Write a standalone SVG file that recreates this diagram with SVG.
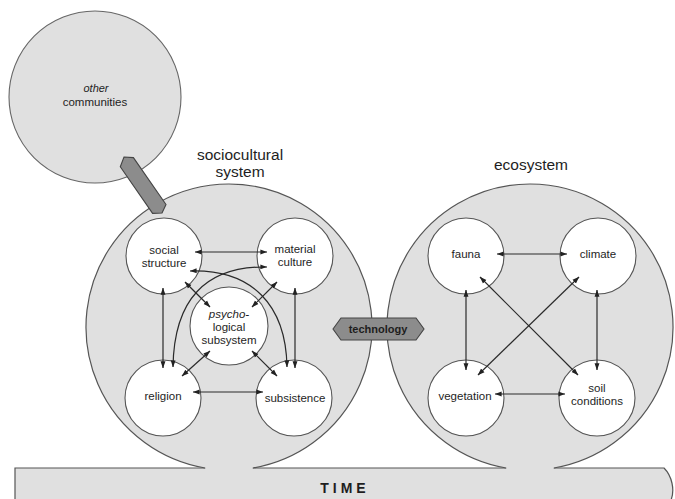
<svg xmlns="http://www.w3.org/2000/svg" width="675" height="499" viewBox="0 0 675 499">
<defs>
<marker id="ah" viewBox="0 0 10 10" refX="9.5" refY="5" markerWidth="7" markerHeight="7" markerUnits="userSpaceOnUse" orient="auto-start-reverse">
<path d="M0,1.5 L10,5 L0,8.5 z" fill="#222"/>
</marker>
</defs>
<style>
.bg{fill:#e0e0e0;stroke:none}
.ol{fill:none;stroke:#555;stroke-width:1.2}
.node{fill:#ffffff;stroke:#555;stroke-width:1.1}
.cn{fill:none;stroke:#2a2a2a;stroke-width:1.2;marker-start:url(#ah);marker-end:url(#ah)}
.t{font-family:"Liberation Sans",Arial,sans-serif;font-size:11.5px;fill:#1e1e1e;text-anchor:middle}
.ti{font-style:italic}
.h{font-size:15.5px}
.dark{fill:#8c8c8c;stroke:#444;stroke-width:1.1}
</style>

<g id="time">
<path class="bg" d="M15,468 L664,468 C672,476 675,490 671,500 L15,500 Z"/>
<path class="ol" d="M15,500 L15,468 L205.2,468 M252.8,468 L506.2,468 M553.8,468 L664,468 C672,476 675,490 671,500"/>
<text class="t" x="345" y="493" style="font-size:14px;font-weight:bold;letter-spacing:4px">TIME</text>
</g>

<g id="sociocultural-system">
<circle class="bg" cx="229" cy="327" r="143"/>
<path class="ol" d="M205.2,468 A143,143 0 1 1 252.8,468"/>
<text class="t h" x="240" y="160">sociocultural</text>
<text class="t h" x="240" y="177">system</text>
</g>

<g id="ecosystem">
<circle class="bg" cx="530" cy="327" r="143"/>
<path class="ol" d="M506.2,468 A143,143 0 1 1 553.8,468"/>
<text class="t h" x="531" y="170">ecosystem</text>
</g>

<g id="other-communities">
<circle cx="95" cy="97" r="86" fill="#e0e0e0" stroke="#666" stroke-width="1.1"/>
<text class="t ti" x="96" y="92" style="font-size:11px">other</text>
<text class="t" x="95" y="106">communities</text>
</g>

<g id="link-bar">
<polygon class="dark" points="124,157 133.4,157.6 166,204.5 162,213 152.6,213.4 120.3,166.7"/>
</g>

<g id="technology">
<polygon class="dark" points="333,329 341,318 416,318 424,329 416,340 341,340"/>
<text class="t" x="378" y="333" style="font-size:11px;font-weight:bold">technology</text>
</g>

<g id="social-structure">
<circle class="node" cx="164" cy="256" r="38"/>
<text class="t" x="164" y="254">social</text>
<text class="t" x="164" y="267">structure</text>
</g>
<g id="material-culture">
<circle class="node" cx="295" cy="256" r="38"/>
<text class="t" x="295" y="253">material</text>
<text class="t" x="295" y="266">culture</text>
</g>
<g id="psychological-subsystem">
<circle class="node" cx="229" cy="326" r="39"/>
<text class="t ti" x="229" y="318">psycho-</text>
<text class="t" x="229" y="331">logical</text>
<text class="t" x="229" y="344">subsystem</text>
</g>
<g id="religion">
<circle class="node" cx="163" cy="398" r="38"/>
<text class="t" x="163" y="400">religion</text>
</g>
<g id="subsistence">
<circle class="node" cx="294" cy="398" r="38"/>
<text class="t" x="295" y="402">subsistence</text>
</g>

<g id="fauna">
<circle class="node" cx="466" cy="256" r="38"/>
<text class="t" x="466" y="258">fauna</text>
</g>
<g id="climate">
<circle class="node" cx="598" cy="256" r="38"/>
<text class="t" x="598" y="258">climate</text>
</g>
<g id="vegetation">
<circle class="node" cx="466" cy="398" r="38"/>
<text class="t" x="465" y="400">vegetation</text>
</g>
<g id="soil-conditions">
<circle class="node" cx="597" cy="398" r="38"/>
<text class="t" x="597" y="392">soil</text>
<text class="t" x="597" y="405">conditions</text>
</g>

<g id="connectors">
<line class="cn" x1="195" y1="252" x2="267" y2="252"/>
<path class="cn" d="M190,271 C252,269 286,305 287,367"/>
<path class="cn" d="M267,267 C205,266 174,300 173,367"/>
<line class="cn" x1="185" y1="282" x2="210" y2="307"/>
<line class="cn" x1="277" y1="282" x2="252" y2="307"/>
<line class="cn" x1="210" y1="351" x2="182" y2="376"/>
<line class="cn" x1="252" y1="351" x2="277" y2="376"/>
<line class="cn" x1="193" y1="392" x2="263" y2="392"/>
<line class="cn" x1="163" y1="288" x2="163" y2="368"/>
<line class="cn" x1="295" y1="288" x2="295" y2="368"/>

<line class="cn" x1="497" y1="254" x2="567" y2="254"/>
<line class="cn" x1="466" y1="290" x2="466" y2="370"/>
<line class="cn" x1="597" y1="290" x2="597" y2="370"/>
<line class="cn" x1="480" y1="277" x2="578" y2="375"/>
<line class="cn" x1="579" y1="277" x2="478" y2="375"/>
<line class="cn" x1="495" y1="394" x2="565" y2="394"/>
</g>
</svg>
